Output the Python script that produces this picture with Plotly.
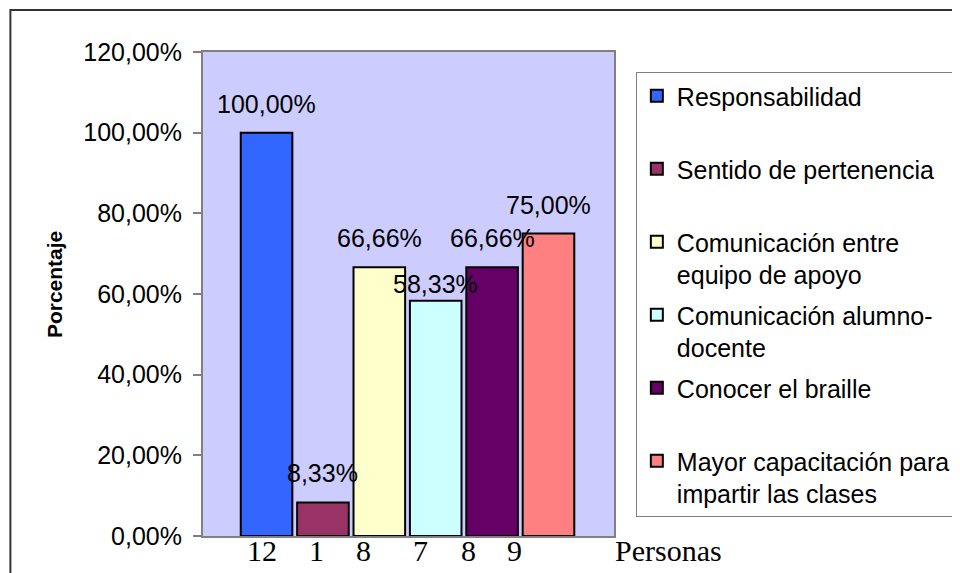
import plotly.graph_objects as go

categorias = [
    'Responsabilidad',
    'Sentido de pertenencia',
    'Comunicación entre<br>equipo de apoyo',
    'Comunicación alumno-<br>docente',
    'Conocer el braille',
    'Mayor capacitación para<br>impartir las clases',
]
porcentajes = [1.0, 0.0833, 0.6666, 0.5833, 0.6666, 0.75]
personas = [12, 1, 8, 7, 8, 9]
colores = ['#3366FF', '#993366', '#FFFFCC', '#CCFFFF', '#660066', '#FF8080']

arial = 'Arial, Liberation Sans, sans-serif'
times = 'Times New Roman, Liberation Serif, serif'

# area de trazado en pixeles de la ventana (la pagina tiene 8px de margen)
L, T, R, B = 203, 52, 617, 536
W, H = R - L, B - T


def px(x):
    return (x - L) / W


def py(y):
    return (B - y) / H


fig = go.Figure()

for i, (cat, val, col) in enumerate(zip(categorias, porcentajes, colores)):
    nombre = cat if '<br>' in cat else cat + '<br> '
    fig.add_trace(go.Bar(
        x=[i], y=[val], name=nombre,
        marker_color=col,
        marker_line_color='black',
        marker_line_width=2,
        legendgroup=str(i),
        hoverinfo='skip',
    ))

# etiquetas de datos
desplaz = [29, 29, 29, 17, 29, 29]
for i, val in enumerate(porcentajes):
    fig.add_annotation(
        x=i, y=val, xref='x', yref='y',
        text=f'{val * 100:.2f}'.replace('.', ',') + '%',
        showarrow=False, yanchor='middle', yshift=desplaz[i],
        font=dict(family=arial, size=25, color='black'),
    )

# numero de personas debajo del eje
x_pers = [262, 317, 365, 422, 470, 517]
for xp, n in zip(x_pers, personas):
    fig.add_annotation(
        x=px(xp), y=py(550), xref='paper', yref='paper',
        text=str(n), showarrow=False, xanchor='center', yanchor='middle',
        font=dict(family=times, size=30, color='black'),
    )
fig.add_annotation(
    x=px(616), y=py(550), xref='paper', yref='paper',
    text='Personas', showarrow=False, xanchor='left', yanchor='middle',
    font=dict(family=times, size=30, color='black'),
)

fig.add_annotation(
    x=px(53), y=py(285), xref='paper', yref='paper',
    text='<b>Porcentaje</b>', showarrow=False, textangle=-90,
    xanchor='center', yanchor='middle',
    font=dict(family=arial, size=21, color='black'),
)

# marco exterior
fig.add_shape(
    type='rect', xref='paper', yref='paper',
    x0=px(9), x1=px(990), y0=py(600), y1=py(10),
    line=dict(color='#333333', width=2), layer='below',
)

fig.update_layout(
    width=960, height=573,
    margin=dict(l=L - 8, r=968 - R, t=T - 8, b=581 - B),
    paper_bgcolor='white',
    plot_bgcolor='#CCCCFF',
    separators=',.',
    barmode='group',
    bargap=0.085,
    showlegend=True,
    font=dict(family=arial, size=25, color='black'),
    xaxis=dict(
        range=[-1.127, 6.162],
        showticklabels=False, ticks='',
        showgrid=False, zeroline=False,
        showline=True, linecolor='#808080', linewidth=2, mirror=True,
    ),
    yaxis=dict(
        range=[0, 1.2], dtick=0.2, tickformat='.2%',
        ticks='outside', ticklen=8, tickcolor='#808080', tickwidth=1.5,
        ticklabelstandoff=6,
        showgrid=False, zeroline=False,
        showline=True, linecolor='#808080', linewidth=2, mirror=True,
        tickfont=dict(family=arial, size=25, color='black'),
    ),
    legend=dict(
        x=px(639), y=py(72),
        xanchor='left', yanchor='top',
        bgcolor='white', bordercolor='#808080', borderwidth=1,
        font=dict(family=arial, size=25, color='black'),
        tracegroupgap=5, valign='top',
        itemclick=False,
    ),
)

fig.write_html('out.html')
